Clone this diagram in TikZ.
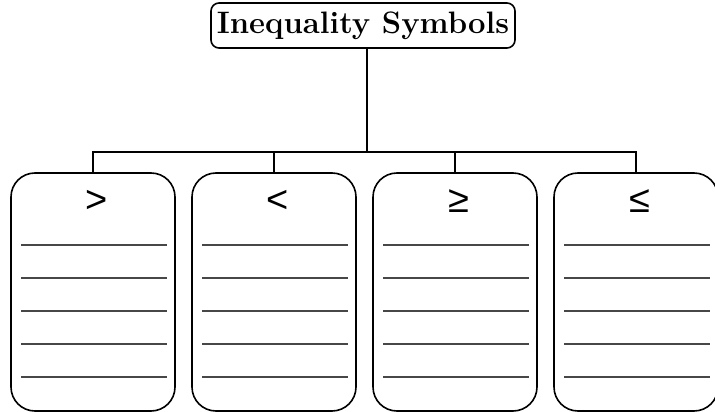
\documentclass[tikz,border=0pt]{standalone}
\usepackage{fontspec}
\newfontfamily\symfont{Liberation Sans}
\begin{document}
\begin{tikzpicture}[x=1pt,y=-1pt,
  titlebox/.style={draw, line width=1.6pt, rounded corners=8pt, inner sep=0pt,
    minimum width=304pt, minimum height=45pt, font=\fontsize{31}{33}\selectfont\bfseries},
  notebox/.style={draw, line width=1.6pt, rounded corners=24pt,
    minimum width=164pt, minimum height=238pt, inner sep=0pt},
  sym/.style={font=\symfont\fontsize{38}{40}\selectfont, inner sep=0pt},
  ruled/.style={draw=black!72, line width=1.9pt},
  link/.style={draw, line width=1.4pt}]
\useasboundingbox (0,0) rectangle (715,412);

% heading
\node[titlebox] (title) at (363,25.5) {Inequality Symbols};

% the four note cards
\node[notebox] (b1) at (93,292) {};
\node[notebox] (b2) at (274,292) {};
\node[notebox] (b3) at (455,292) {};
\node[notebox] (b4) at (636,292) {};

% symbols heading each card
\node[sym] (s1) at ([xshift=4pt,yshift=-29pt]b1.north) {>};
\node[sym] (s2) at ([xshift=4pt,yshift=-29pt]b2.north) {<};
\node[sym] (s3) at ([xshift=4pt,yshift=-29pt]b3.north) {≥};
\node[sym] (s4) at ([xshift=4pt,yshift=-29pt]b4.north) {≤};

% writing lines
\foreach \b in {b1,b2,b3,b4}
  \foreach \dy in {73,106,139,172,205}
    \draw[ruled] ([xshift=-72pt,yshift=-\dy pt]\b.north) -- ([xshift=74pt,yshift=-\dy pt]\b.north);

% tree connectors
\coordinate (hub) at (367,152);
\draw[link] (title.south -| hub) -- (hub);
\draw[link] (b1.north) |- (hub) -| (b4.north);
\draw[link] (b2.north) -- (b2.north |- hub);
\draw[link] (b3.north) -- (b3.north |- hub);
\end{tikzpicture}
\end{document}
